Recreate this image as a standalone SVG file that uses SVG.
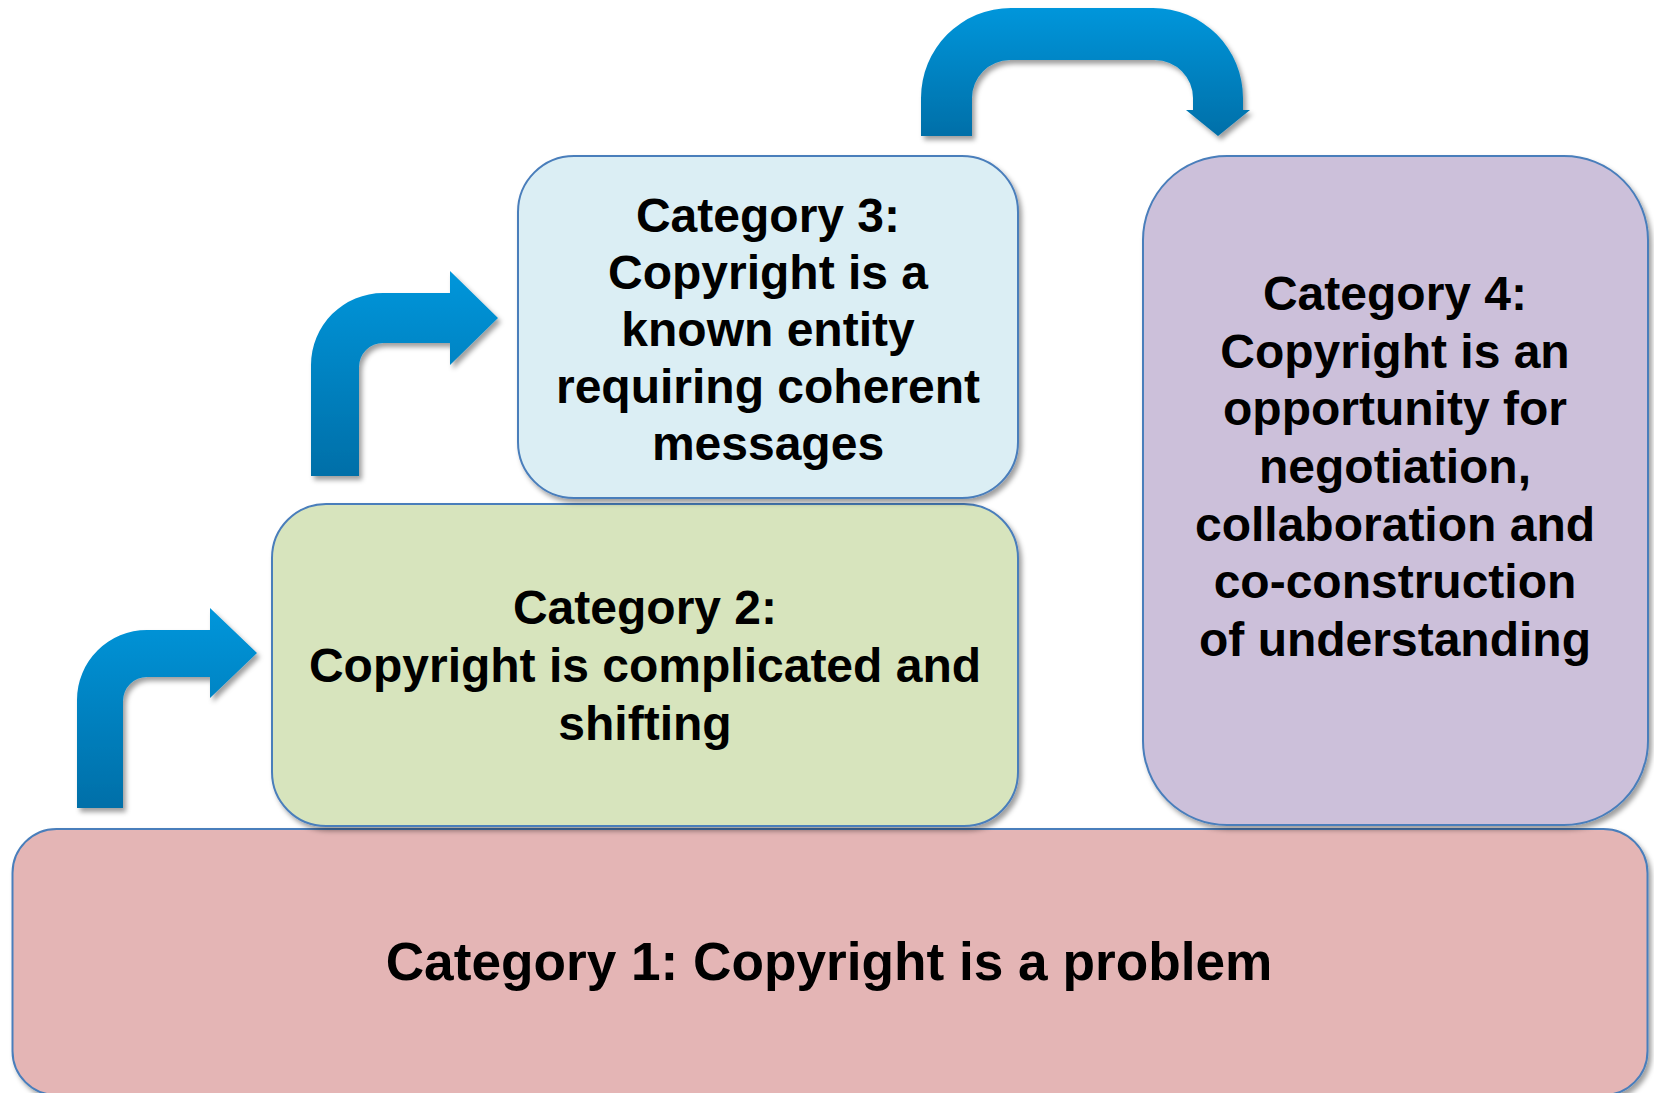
<svg xmlns="http://www.w3.org/2000/svg" width="1654" height="1093" viewBox="0 0 1654 1093">
<defs>
<filter id="sh" x="-10%" y="-10%" width="125%" height="125%">
<feDropShadow dx="3" dy="4" stdDeviation="2.5" flood-color="#000" flood-opacity="0.38"/>
</filter>
<linearGradient id="ag" x1="0" y1="0" x2="0" y2="1">
<stop offset="0" stop-color="#0096DB"/>
<stop offset="1" stop-color="#006FA8"/>
</linearGradient>
<style>
.box{stroke:#4A7EBB;stroke-width:2;filter:url(#sh)}
.lbl{font-family:"Liberation Sans",Arial,sans-serif;font-weight:bold;font-size:48px;fill:#000;text-anchor:middle}
.arr{fill:url(#ag);filter:url(#sh)}
</style>
</defs>
<rect width="1654" height="1093" fill="#fff"/>
<g id="cat1">
<rect class="box" x="12.5" y="829" width="1635" height="266" rx="44" ry="44" fill="#E4B5B5"/>
<text class="lbl" x="829" y="980" style="font-size:53.2px">Category 1: Copyright is a problem</text>
</g>
<g id="cat2">
<rect class="box" x="272" y="504" width="746" height="322" rx="54" ry="54" fill="#D7E4BD"/>
<text class="lbl" x="645" y="624">Category 2:</text>
<text class="lbl" x="645" y="682">Copyright is complicated and</text>
<text class="lbl" x="645" y="740">shifting</text>
</g>
<g id="cat3">
<rect class="box" x="518" y="156" width="500" height="342" rx="56" ry="56" fill="#DBEEF4"/>
<text class="lbl" x="768" y="232">Category 3:</text>
<text class="lbl" x="768" y="289">Copyright is a</text>
<text class="lbl" x="768" y="346">known entity</text>
<text class="lbl" x="768" y="403">requiring coherent</text>
<text class="lbl" x="768" y="460">messages</text>
</g>
<g id="cat4">
<rect class="box" x="1143" y="156" width="505" height="669" rx="84" ry="84" fill="#CCC0DA"/>
<text class="lbl" x="1395" y="310">Category 4:</text>
<text class="lbl" x="1395" y="368">Copyright is an</text>
<text class="lbl" x="1395" y="425">opportunity for</text>
<text class="lbl" x="1395" y="483">negotiation,</text>
<text class="lbl" x="1395" y="541">collaboration and</text>
<text class="lbl" x="1395" y="598">co-construction</text>
<text class="lbl" x="1395" y="656">of understanding</text>
</g>
<g id="connectors">
<path class="arr" d="M77,808 L77,700 A70,70 0 0 1 147,630 L210,630 L210,608 L257,653 L210,698 L210,677 L147,677 A24,24 0 0 0 123,701 L123,808 Z"/>
<path class="arr" d="M311,476 L311,365 A72,72 0 0 1 383,293 L450,293 L450,271 L498,318 L450,365 L450,343 L383,343 A24,24 0 0 0 359,367 L359,476 Z"/>
<path class="arr" d="M921,136 L921,98 A90,90 0 0 1 1011,8 L1153,8 A90,90 0 0 1 1243,98 L1243,110 L1250,110 L1218,136 L1186,110 L1193,110 L1193,98 A38,38 0 0 0 1155,60 L1010,60 A38,38 0 0 0 972,98 L972,136 Z"/>
</g>
</svg>
